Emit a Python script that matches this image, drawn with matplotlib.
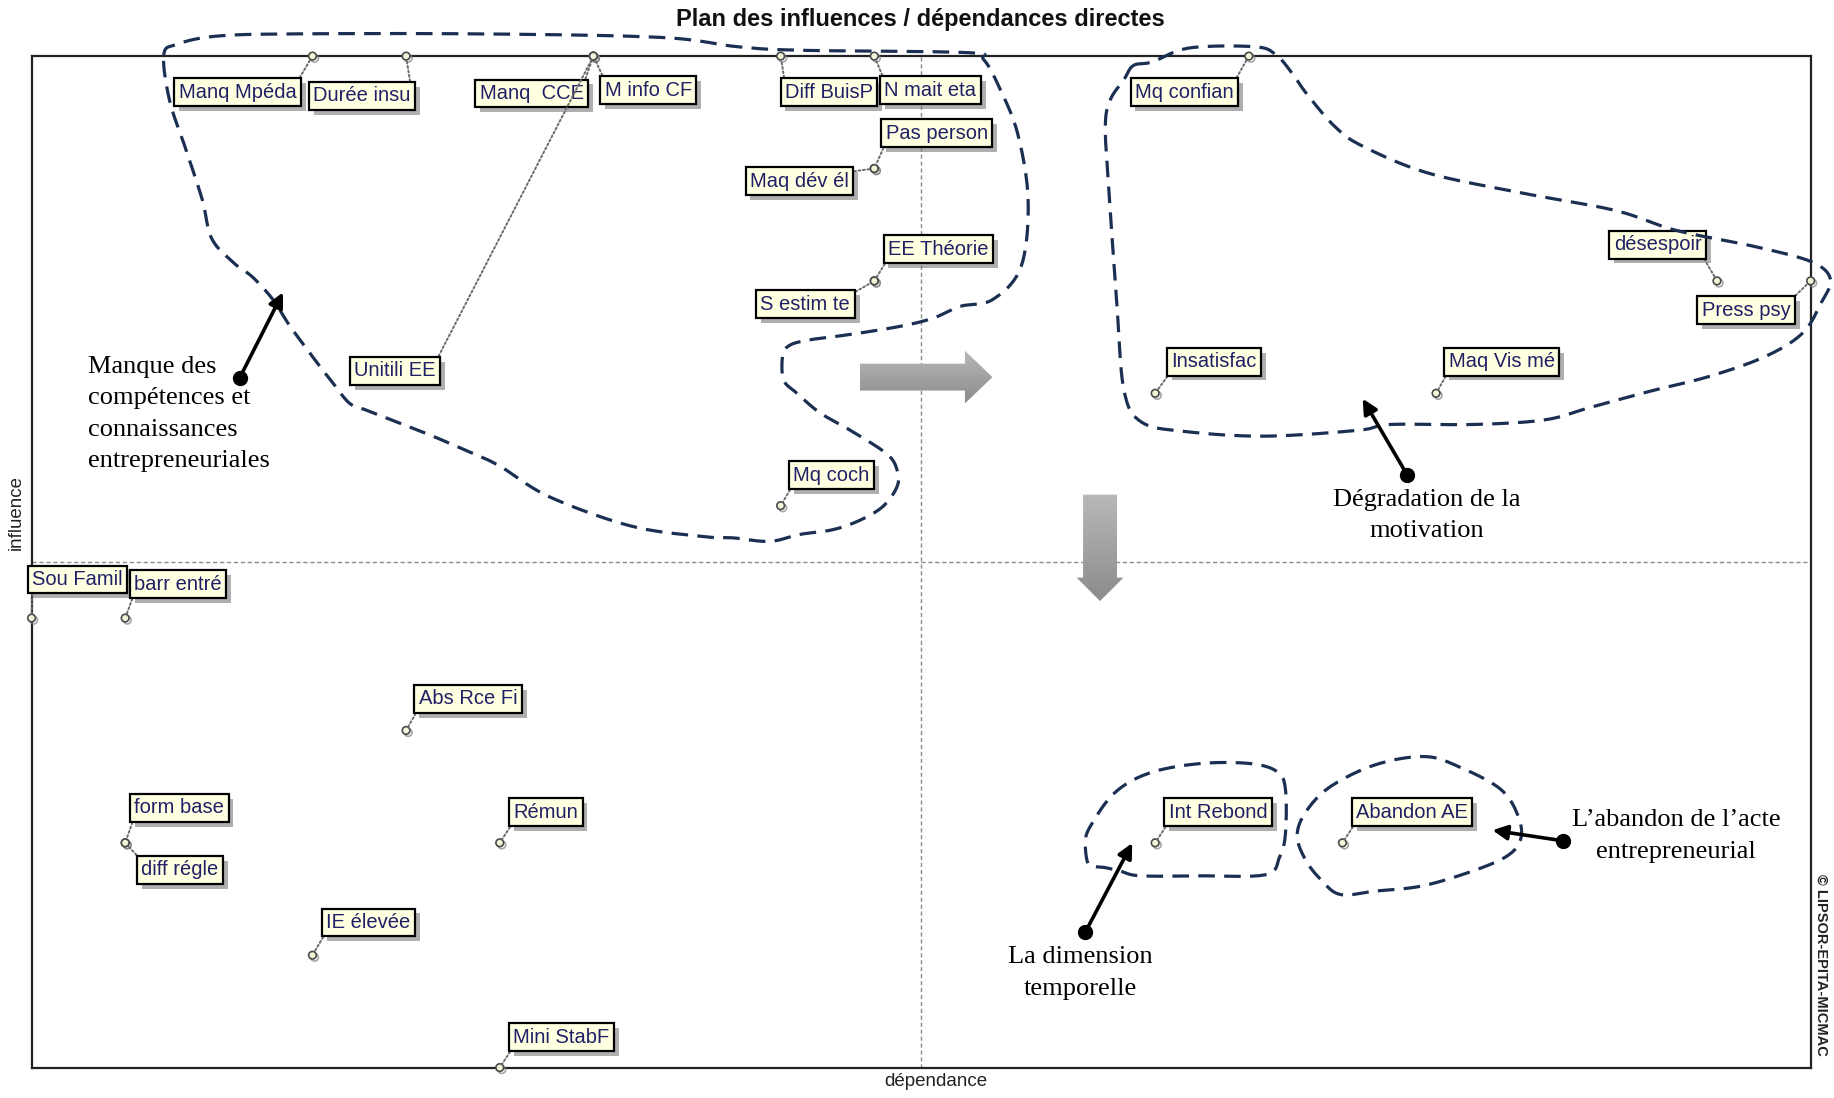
import numpy as np
import matplotlib
matplotlib.use("Agg")
import matplotlib.pyplot as plt
import matplotlib.patheffects as pe
from matplotlib.patches import Polygon

# ---------------- data ----------------
names = ["Manq Mpéda", "Durée insu", "Manq  CCE", "M info CF", "Unitili EE",
         "Diff BuisP", "N mait eta", "Mq confian", "Pas person", "Maq dév él",
         "EE Théorie", "S estim te", "Mq coch", "Insatisfac", "Maq Vis mé",
         "désespoir", "Press psy", "Sou Famil", "barr entré", "Abs Rce Fi",
         "form base", "diff régle", "Rémun", "IE élevée", "Mini StabF",
         "Int Rebond", "Abandon AE"]
dependance = [3, 4, 6, 6, 6, 8, 9, 13, 9, 9, 9, 9, 8, 12, 15, 18, 19,
              0, 1, 4, 1, 1, 5, 3, 5, 12, 14]
influence = [9, 9, 9, 9, 9, 9, 9, 9, 8, 8, 7, 7, 5, 6, 6, 7, 7,
             4, 4, 3, 2, 2, 2, 1, 0, 2, 2]

title = "Plan des influences / dépendances directes"
xlabel = "dépendance"
ylabel = "influence"
copyright_txt = "© LIPSOR-EPITA-MICMAC"

# label placement (offset in pixels from the point to the left/centre of label)
label_offsets = {
    "Manq Mpéda": (-135.7, -36.3), "Durée insu": (-94.7, -39.8),
    "Manq  CCE": (-115.8, -37.4), "M info CF": (9.4, -33.9),
    "Unitili EE": (-240.9, -314.6), "Diff BuisP": (2.3, -36.3),
    "N mait eta": (8.2, -33.9), "Mq confian": (-115.8, -36.3),
    "Pas person": (9.4, 35.1), "Maq dév él": (-126.3, -12.9),
    "EE Théorie": (11.7, 31.6), "S estim te": (-115.8, -23.4),
    "Mq coch": (10.5, 30.4), "Insatisfac": (14.0, 31.6),
    "Maq Vis mé": (10.5, 31.6), "désespoir": (-105.3, 36.3),
    "Press psy": (-111.1, -29.2), "Sou Famil": (-1.2, 38.6),
    "barr entré": (7.0, 33.9), "Abs Rce Fi": (10.5, 31.6),
    "form base": (7.0, 35.1), "diff régle": (14.0, -26.9),
    "Rémun": (11.7, 30.4), "IE élevée": (11.7, 32.7),
    "Mini StabF": (11.7, 30.4), "Int Rebond": (11.7, 30.4),
    "Abandon AE": (11.7, 30.4),
}

W, H = 1834, 1098
fig = plt.figure(figsize=(W / 100, H / 100), dpi=100)
fig.patch.set_facecolor("white")

# reference-image layout space (1568 x 939)
RW, RH = 1568.0, 939.0
ax = fig.add_axes([27 / RW, 1 - 913 / RH, (1548 - 27) / RW, (913 - 48) / RH])
ax.set_xlim(min(dependance), max(dependance))
ax.set_ylim(min(influence), max(influence))
ax.set_xticks([])
ax.set_yticks([])
for s in ax.spines.values():
    s.set_color("#222222")
    s.set_linewidth(1.6)

xm = (min(dependance) + max(dependance)) / 2
ym = (min(influence) + max(influence)) / 2
ax.axvline(xm, color="#8a8a8a", lw=1.0, ls=(0, (3, 2)), zorder=1)
ax.axhline(ym, color="#8a8a8a", lw=1.0, ls=(0, (3, 2)), zorder=1)

ax.plot(dependance, influence, ls="none", marker="o", ms=5.5,
        mfc="#f4f4d8", mec="#4a4a4a", mew=1.2, clip_on=False, zorder=4,
        path_effects=[pe.SimpleLineShadow(offset=(1.5, -1.5), shadow_color="gray", alpha=0.7),
                      pe.Normal()])

for n, x, y in zip(names, dependance, influence):
    dx, dy = label_offsets[n]
    rx = 0 if dx >= -5 else 1
    ry = 0 if dy > 0 else 1
    ax.annotate(n, xy=(x, y), xytext=(dx + 2, dy), textcoords="offset pixels",
                ha="left", va="center", fontsize=14.5, color="#202066",
                family=["Liberation Sans", "DejaVu Sans"],
                annotation_clip=False, zorder=6,
                bbox=dict(boxstyle="square,pad=0.22", fc="#ffffe1", ec="black", lw=1.6,
                          path_effects=[pe.SimplePatchShadow(offset=(3.5, -3.5),
                                                             shadow_rgbFace="#7a7a7a", alpha=0.6),
                                        pe.Normal()]),
                arrowprops=dict(arrowstyle="-", color="#6a6a6a", lw=1.4,
                                ls=(0, (1, 1.3)), shrinkA=0, shrinkB=3,
                                relpos=(rx, ry)))

# ---------------- overlay in reference pixel space ----------------
ov = fig.add_axes([0, 0, 1, 1], zorder=10)
ov.set_xlim(0, RW)
ov.set_ylim(RH, 0)
ov.axis("off")
ov.patch.set_visible(False)


def catmull(pts, n=20):
    pts = np.asarray(pts, float)
    P = np.vstack([pts[-1], pts, pts[0], pts[1]])
    out = []
    for i in range(1, len(pts) + 1):
        p0, p1, p2, p3 = P[i - 1], P[i], P[i + 1], P[i + 2]
        t = np.linspace(0, 1, n, endpoint=False)[:, None]
        seg = 0.5 * ((2 * p1) + (-p0 + p2) * t + (2 * p0 - 5 * p1 + 4 * p2 - p3) * t ** 2
                     + (-p0 + 3 * p1 - 3 * p2 + p3) * t ** 3)
        out.append(seg)
    out = np.vstack(out)
    return np.vstack([out, out[:1]])


blob_left = [(140, 47), (151, 38), (184, 31), (249, 29), (413, 29), (565, 32),
             (631, 40), (685, 43), (827, 45), (841, 51), (854, 74), (870, 114),
             (879, 171), (873, 228), (849, 256), (821, 262), (798, 272),
             (770, 279), (727, 286), (690, 291), (674, 296), (669, 305),
             (670, 325), (681, 336), (701, 353), (727, 368), (758, 388),
             (767, 402), (767, 416), (755, 433), (735, 445), (712, 453),
             (684, 457), (658, 463), (627, 460), (603, 459), (540, 450),
             (470, 425), (428, 399), (405, 388), (370, 373), (342, 362),
             (314, 351), (299, 345), (285, 328), (274, 314), (248, 279),
             (234, 257), (216, 237), (200, 225), (181, 204), (173, 171),
             (159, 128), (145, 86)]
blob_right = [(969, 56), (985, 53), (1017, 41), (1073, 40), (1091, 47),
              (1105, 63), (1117, 80), (1141, 108), (1165, 125), (1221, 148),
              (1301, 165), (1381, 180), (1433, 197), (1501, 211), (1549, 224),
              (1565, 239), (1557, 259), (1541, 285), (1509, 305), (1461, 322),
              (1413, 334), (1361, 348), (1321, 359), (1261, 363), (1189, 363),
              (1161, 368), (1081, 373), (1013, 369), (976, 361), (961, 334),
              (955, 262), (949, 177), (945, 111), (949, 86), (961, 68)]
blob_rebond = [(930, 738), (928, 721), (932, 707), (953, 678), (983, 661),
               (1026, 653), (1069, 653), (1092, 660), (1099, 675), (1099, 713),
               (1094, 733), (1082, 748), (1026, 749), (975, 749), (958, 745),
               (945, 742), (936, 741)]
blob_abandon = [(1146, 765), (1129, 752), (1116, 735), (1109, 715), (1116, 695),
                (1137, 673), (1176, 654), (1218, 647), (1248, 656), (1283, 675),
                (1298, 698), (1300, 718), (1287, 733), (1253, 747), (1214, 758),
                (1176, 762)]

for b in (blob_left, blob_right, blob_rebond, blob_abandon):
    c = catmull(b)
    ov.plot(c[:, 0], c[:, 1], color="#1b2f52", lw=2.3, ls=(0, (5.2, 2.9)),
            solid_capstyle="butt", dash_capstyle="butt")


def grad_poly(pts):
    poly = Polygon(pts, closed=True, fc="none", ec="none")
    ov.add_patch(poly)
    xs = [p[0] for p in pts]
    ys = [p[1] for p in pts]
    g = np.linspace(0, 1, 64)[:, None]
    im = ov.imshow(g, cmap=matplotlib.colors.LinearSegmentedColormap.from_list(
        "g", ["#b8b8b8", "#8c8c8c"]), extent=(min(xs), max(xs), max(ys), min(ys)),
        origin="upper", aspect="auto", interpolation="bilinear", zorder=3)
    im.set_clip_path(poly)


grad_poly([(735, 311), (825, 311), (825, 300), (848.5, 322.5), (825, 345),
           (825, 334), (735, 334)])
grad_poly([(926, 423), (955, 423), (955, 494), (960.5, 494), (940.5, 514),
           (920.5, 494), (926, 494)])
ov.set_xlim(0, RW)
ov.set_ylim(RH, 0)

serif = ["Liberation Serif", "DejaVu Serif"]
LS = 1.56
ov.text(75, 354, "Manque des\ncompétences et\nconnaissances\nentrepreneuriales",
        ha="left", va="center", fontsize=19, family=serif, linespacing=LS)
ov.text(1220, 441, "Dégradation de la\nmotivation", ha="center", va="center",
        fontsize=19, family=serif, linespacing=LS)
ov.text(924, 832, "La dimension\ntemporelle", ha="center", va="center",
        fontsize=19, family=serif, linespacing=LS)
ov.text(1433, 715, "L\u2019abandon de l\u2019acte\nentrepreneurial", ha="center",
        va="center", fontsize=19, family=serif, linespacing=LS)

for (x0, y0), (x1, y1) in [((205, 323), (242, 250)), ((1203, 406), (1165, 341)),
                           ((928, 797), (968, 721)), ((1336, 719), (1276, 710))]:
    ov.annotate("", xy=(x1, y1), xytext=(x0, y0),
                arrowprops=dict(arrowstyle="-|>", color="black", lw=2.6,
                                mutation_scale=22, shrinkA=0, shrinkB=0))
    ov.plot([x0], [y0], "o", color="black", ms=10)

ov.text(787, 17, title, ha="center", va="center", fontsize=17, fontweight="bold",
        color="#111111", family=["Liberation Sans", "DejaVu Sans"])
ov.text(800, 925, xlabel, ha="center", va="center", fontsize=13.5, color="#222222",
        family=["Liberation Sans", "DejaVu Sans"])
ov.text(14, 438, ylabel, ha="center", va="center", fontsize=13.5, rotation=90,
        color="#222222", family=["Liberation Sans", "DejaVu Sans"])
ov.text(1557, 825, copyright_txt, ha="center", va="center", fontsize=10.5,
        fontweight="bold", rotation=270, color="#222222",
        family=["Liberation Sans", "DejaVu Sans"])

fig.savefig("out.png", dpi=100)
